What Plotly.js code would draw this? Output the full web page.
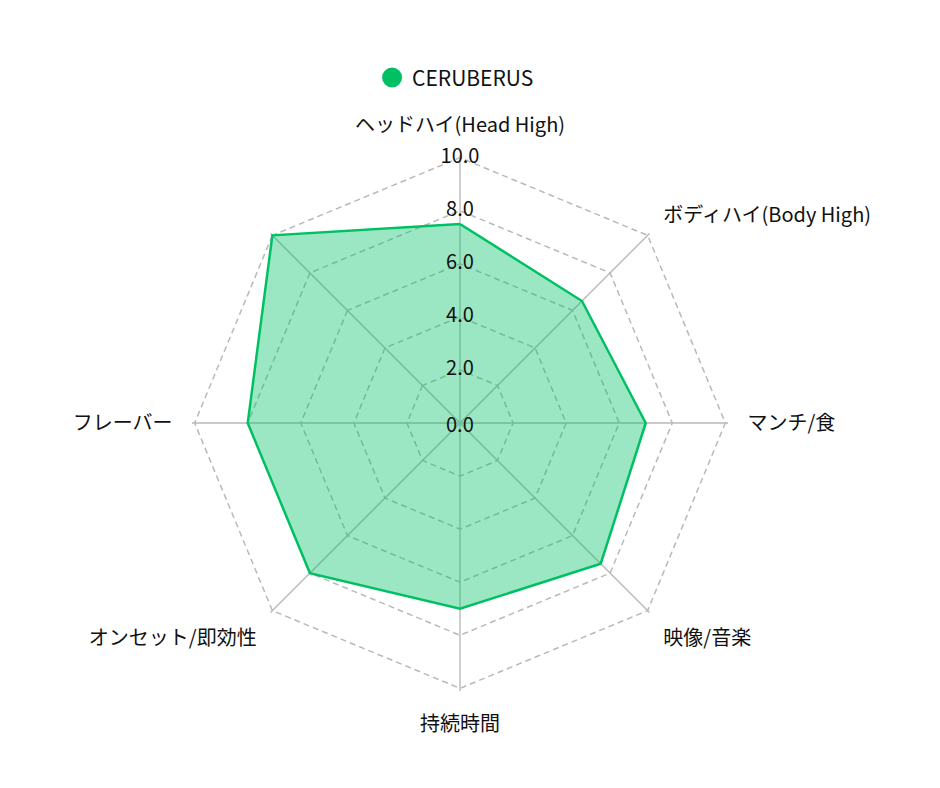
<!DOCTYPE html>
<html>
<head>
<meta charset="utf-8">
<script src="https://cdn.plot.ly/plotly-3.0.1.min.js"></script>
<style>
  html, body { margin: 0; padding: 0; background: #fff; }
  #chart { width: 940px; height: 788px; }
</style>
</head>
<body>
<div id="chart"></div>
<script>
// axes, clockwise from the top (last one has no label)
var categories = ['ヘッドハイ(Head High)', 'ボディハイ(Body High)', 'マンチ/食', '映像/音楽', '持続時間', 'オンセット/即効性', 'フレーバー', ' '];
var seriesName = 'CERUBERUS';
var values = [7.5, 6.5, 7.0, 7.5, 7.0, 8.0, 8.0, 10.0];
var tickVals = [0, 2, 4, 6, 8, 10];
var tickText = ['0.0', '2.0', '4.0', '6.0', '8.0', '10.0'];

var green = 'rgb(0,192,100)';
var font = '"Noto Sans CJK JP", "Noto Sans", sans-serif';

// close the polygon
var r = values.concat([values[0]]);
var theta = categories.concat([categories[0]]);

var area = {
  type: 'scatterpolar',
  r: r,
  theta: theta,
  mode: 'lines',
  fill: 'toself',
  fillcolor: 'rgba(0,192,100,0.39)',
  line: {color: green, width: 2.5},
  name: seriesName,
  legendgroup: 'c',
  showlegend: false,
  hoverinfo: 'skip'
};

// legend entry only (round marker like the original)
var legendItem = {
  type: 'scatterpolar',
  r: [null],
  theta: [null],
  mode: 'markers',
  marker: {color: green, size: 16, line: {color: green, width: 4}},
  name: seriesName,
  legendgroup: 'c',
  showlegend: true
};

// radial tick labels sitting on the top spoke
// plotly drops the text at r=0, so the centre one is an annotation below
var tickLabels = {
  type: 'scatterpolar',
  r: tickVals.slice(1),
  theta: tickVals.slice(1).map(function () { return categories[0]; }),
  mode: 'text',
  text: tickText.slice(1),
  textposition: 'middle center',
  textfont: {family: font, size: 20, color: '#111'},
  cliponaxis: false,
  showlegend: false,
  hoverinfo: 'skip'
};

var layout = {
  width: 940,
  height: 788,
  // range goes a bit past 10 so the outer dashed ring is drawn
  margin: {l: 92, r: 112, t: 155, b: 97},
  paper_bgcolor: '#fff',
  font: {family: font, size: 20, color: '#111'},
  showlegend: true,
  legend: {
    orientation: 'h',
    x: 0.494, xanchor: 'center',
    y: 1.144, yanchor: 'middle',
    font: {family: font, size: 21, color: '#111'}
  },
  // polar centre = middle of its domain
  annotations: [{
    xref: 'paper', yref: 'paper',
    x: 0.5, y: 0.5,
    xanchor: 'center', yanchor: 'middle',
    text: tickText[0],
    showarrow: false,
    font: {family: font, size: 20, color: '#111'}
  }],
  polar: {
    bgcolor: 'rgba(0,0,0,0)',
    gridshape: 'linear',
    radialaxis: {
      range: [0, 10.1],
      tickvals: tickVals,
      showticklabels: false,
      ticks: '',
      showline: false,
      gridcolor: '#b9b9b9',
      griddash: '6px,4px',
      gridwidth: 1.5
    },
    angularaxis: {
      direction: 'clockwise',
      rotation: 90,
      showline: false,
      ticks: 'outside',
      ticklen: 15,
      tickcolor: 'rgba(0,0,0,0)',
      gridcolor: '#b9b9b9',
      gridwidth: 1.4,
      tickfont: {family: font, size: 20, color: '#111'}
    }
  }
};

Plotly.newPlot('chart', [area, tickLabels, legendItem], layout, {displayModeBar: false, staticPlot: true});
</script>
</body>
</html>
